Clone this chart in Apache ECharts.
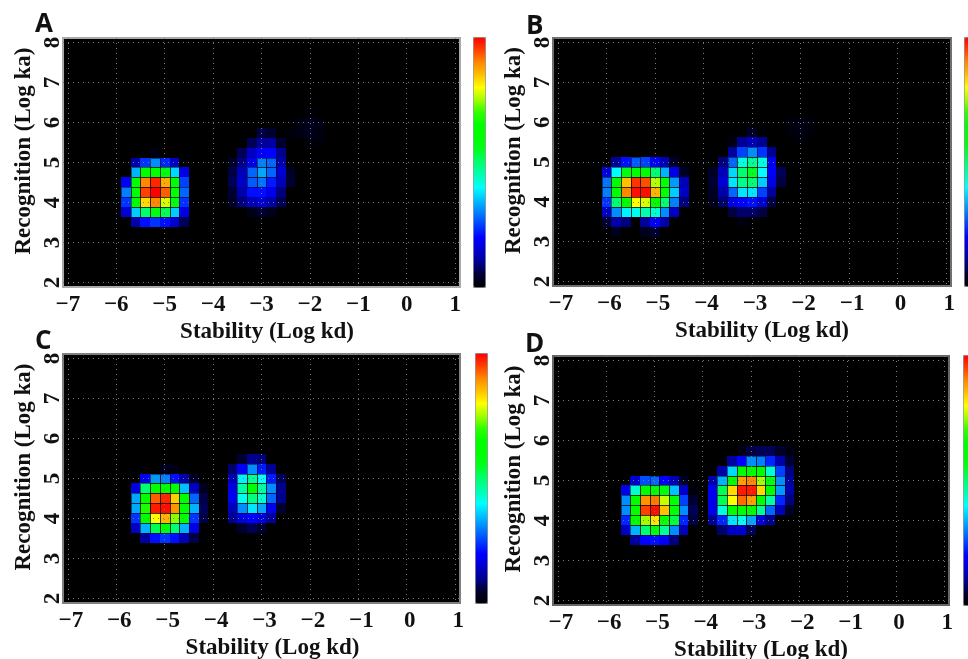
<!DOCTYPE html>
<html>
<head>
<meta charset="utf-8">
<style>html,body{margin:0;padding:0;background:#fff}#c{width:968px;height:659px}</style>
<script src="https://cdn.jsdelivr.net/npm/echarts@6/dist/echarts.min.js"></script>
</head>
<body>
<div id="c"></div>
<script>
// Tick labels
const xTicks = [-7, -6, -5, -4, -3, -2, -1, 0, 1];
const yTicks = [2, 3, 4, 5, 6, 7, 8];
const xTitle = 'Stability (Log kd)';
const yTitle = 'Recognition (Log ka)';

// Heat cells: each row is [y, x of first cell, values of consecutive cells (x step 0.2)]
const panelA = [
  [6.25, -2.0, 1],
  [6.0, -2.2, 2, 3, 2],
  [5.75, -3.0, 6, 5], [5.75, -2.4, 1, 2, 3, 2],
  [5.5, -3.2, 7, 11, 11, 5], [5.5, -2.0, 1, 1],
  [5.25, -5.2, 2], [5.25, -3.4, 7, 14, 19, 20, 10],
  [5.0, -5.6, 12, 24, 31, 23, 14], [5.0, -3.6, 4, 9, 18, 30, 28, 12],
  [4.75, -5.6, 34, 60, 60, 58, 37, 17], [4.75, -3.6, 6, 13, 28, 33, 28, 15, 4],
  [4.5, -5.8, 19, 60, 90, 97, 87, 60, 25], [4.5, -3.6, 7, 14, 27, 29, 22, 13, 5],
  [4.25, -5.8, 30, 62, 95, 100, 93, 60, 28], [4.25, -3.6, 5, 12, 21, 21, 18, 9],
  [4.0, -5.8, 24, 60, 83, 90, 78, 58, 24], [4.0, -3.6, 4, 9, 13, 15, 12, 7],
  [3.75, -5.8, 15, 36, 50, 57, 52, 36, 17], [3.75, -3.2, 3, 5, 3],
  [3.5, -5.6, 12, 21, 24, 21, 15, 7]
];
const panelB = [
  [6.0, -2.2, 1, 2, 1],
  [5.75, -3.0, 4], [5.75, -2.2, 1, 2, 1],
  [5.5, -3.4, 2, 10, 13, 10], [5.5, -2.0, 1],
  [5.25, -3.4, 11, 25, 31, 24, 10],
  [5.0, -5.8, 11, 21, 27, 25, 19, 13, 4], [5.0, -3.6, 9, 28, 42, 47, 42, 18],
  [4.75, -6.0, 16, 40, 57, 60, 60, 50, 34, 17, 4], [4.75, -3.8, 4, 13, 37, 50, 55, 40, 19, 7],
  [4.5, -6.0, 29, 60, 85, 96, 94, 76, 60, 32, 13], [4.5, -3.8, 5, 15, 38, 48, 50, 36, 17, 6],
  [4.25, -6.0, 30, 60, 90, 99, 99, 86, 60, 36, 14], [4.25, -3.8, 4, 12, 28, 38, 38, 25, 11],
  [4.0, -6.0, 24, 50, 60, 80, 78, 60, 50, 30, 9], [4.0, -3.8, 3, 8, 17, 20, 21, 15, 6],
  [3.75, -6.0, 14, 31, 39, 41, 45, 43, 31, 14], [3.75, -3.4, 6, 8, 8, 6],
  [3.5, -6.0, 5, 12, 9, 0, 11, 19, 12], [3.5, -3.2, 2],
  [3.25, -5.8, 3], [3.25, -5.2, 3, 5]
];
const panelC = [
  [5.5, -3.4, 5, 10, 9],
  [5.25, -5.0, 3, 2], [5.25, -3.6, 8, 19, 31, 22, 10],
  [5.0, -5.4, 18, 32, 30, 21, 12, 4], [5.0, -3.6, 13, 39, 47, 40, 22, 7],
  [4.75, -5.6, 17, 50, 60, 60, 60, 35, 14, 3], [4.75, -3.6, 17, 46, 60, 46, 31, 10],
  [4.5, -5.6, 33, 60, 93, 97, 84, 60, 28, 6], [4.5, -3.6, 18, 41, 49, 43, 28, 10],
  [4.25, -5.6, 33, 68, 98, 99, 89, 60, 34, 7], [4.25, -3.6, 13, 31, 38, 33, 18, 5],
  [4.0, -5.6, 24, 60, 80, 86, 74, 60, 24, 6], [4.0, -3.6, 10, 16, 20, 17, 11],
  [3.75, -5.6, 14, 34, 52, 58, 50, 34, 17], [3.75, -3.4, 5, 7, 5],
  [3.5, -5.4, 11, 21, 24, 21, 13, 6]
];
const panelD = [
  [5.75, -3.2, 2, 6, 7, 7, 4, 2],
  [5.5, -3.4, 11, 20, 31, 30, 23, 12, 5],
  [5.25, -3.6, 12, 37, 60, 60, 60, 43, 25, 9],
  [5.0, -5.4, 15, 26, 28, 20, 13, 4], [5.0, -3.8, 12, 34, 60, 88, 90, 75, 58, 31, 11],
  [4.75, -5.6, 18, 43, 60, 60, 58, 35, 14, 1], [4.75, -3.8, 18, 52, 83, 98, 98, 83, 60, 32, 12],
  [4.5, -5.6, 31, 60, 89, 91, 77, 60, 25, 5], [4.5, -3.8, 18, 52, 80, 92, 88, 60, 46, 23, 9],
  [4.25, -5.6, 31, 60, 95, 99, 85, 60, 31, 7], [4.25, -3.8, 17, 42, 60, 60, 60, 47, 28, 13, 4],
  [4.0, -5.6, 23, 60, 75, 82, 66, 53, 23, 6], [4.0, -3.8, 10, 23, 38, 41, 33, 17, 10],
  [3.75, -5.6, 14, 34, 50, 58, 47, 31, 13], [3.75, -3.6, 8, 14, 15, 7],
  [3.5, -5.4, 11, 20, 21, 19, 9]
];
const panelData = [panelA, panelB, panelC, panelD];
const panelLetters = ['A', 'B', 'C', 'D'];

// Layout
const layouts = [
  {l: 63,  t: 38,  w: 397, h: 249, bar: 473, barTop: 37,  barH: 250, border: '#aaaaaa', lx: 35,  ly: 12,  sx: 0, xn: 11},
  {l: 553, t: 38,  w: 398, h: 248, bar: 964, barTop: 37,  barH: 249, border: '#707070', lx: 526, ly: 14,  sx: 6, xn: 20},
  {l: 63,  t: 354, w: 397, h: 249, bar: 475, barTop: 353, barH: 250, border: '#808080', lx: 35,  ly: 329, sx: 6, xn: 22},
  {l: 553, t: 356, w: 396, h: 249, bar: 963, barTop: 355, barH: 250, border: '#666666', lx: 525, ly: 332, sx: 6, xn: 20}
];
const rampColors = ['#000000','#000030','#000090','#0000d0','#0000ff','#0040ff','#0080ff','#00c0ff','#00ffff','#00ffb0','#00ff70','#00ff20','#00ff00','#00ff00','#30ff00','#a0ff00','#ffff00','#ffc000','#ff8800','#ff4000','#ff0000'];
const serif = '"Liberation Serif","Times New Roman",serif';
const minus = v => String(v).replace('-', '\u2212');

function cells(rows) {
  const out = [];
  rows.forEach(r => {
    for (let i = 2; i < r.length; i++) {
      out.push([+(r[1] + (i - 2) * 0.2).toFixed(1), r[0], r[i]]);
    }
  });
  return out;
}
const dots = {show: true, lineStyle: {color: '#7a7a7a', width: 1, type: [1, 4]}};

const option = {
  animation: false,
  backgroundColor: '#ffffff',
  title: layouts.map((p, i) => ({
    text: panelLetters[i], left: p.lx, top: p.ly, padding: 0,
    textStyle: {fontFamily: '"Open Sans","Noto Sans",sans-serif', fontWeight: 'bold', fontSize: 26, color: '#111'}
  })),
  grid: layouts.map(p => ({
    show: true, left: p.l, top: p.t, width: p.w, height: p.h, outerBoundsMode: 'none', containLabel: false,
    backgroundColor: '#000', borderColor: p.border, borderWidth: 2
  })),
  xAxis: layouts.map((p, i) => ({
    type: 'value', gridIndex: i, min: -7.1, max: 1.1, z: 5,
    name: xTitle, nameLocation: 'middle', nameGap: 34, nameMoveOverlap: false,
    nameTextStyle: {fontFamily: serif, fontWeight: 'bold', fontSize: 23, color: '#111', padding: [0, 0, 0, p.xn]},
    axisLine: {show: false},
    axisTick: {show: false, customValues: xTicks},
    axisLabel: {customValues: xTicks, formatter: minus, margin: 7, fontFamily: serif, fontWeight: 'bold', fontSize: 23, color: '#111', padding: [0, 0, 0, p.sx]},
    splitLine: dots
  })),
  yAxis: layouts.map((p, i) => ({
    type: 'value', gridIndex: i, min: 1.885, max: 8.115, z: 5,
    name: yTitle, nameLocation: 'middle', nameGap: 27, nameRotate: 90, nameMoveOverlap: false,
    nameTextStyle: {fontFamily: serif, fontWeight: 'bold', fontSize: 23, color: '#111', padding: [0, 0, 0, 23]},
    axisLine: {show: false},
    axisTick: {show: false, customValues: yTicks},
    axisLabel: {customValues: yTicks, rotate: 90, margin: -2, fontFamily: serif, fontWeight: 'bold', fontSize: 23, color: '#111'},
    splitLine: dots
  })),
  visualMap: layouts.map((p, i) => ({
    type: 'continuous', seriesIndex: i, dimension: 2, min: 0, max: 100, calculable: false, hoverLink: false,
    left: p.bar, top: p.barTop, itemWidth: 12, itemHeight: p.barH, padding: 0, text: null,
    inRange: {color: rampColors}, borderColor: '#888', borderWidth: 1
  })),
  series: panelData.map((rows, i) => ({
    type: 'custom', coordinateSystem: 'cartesian2d', xAxisIndex: i, yAxisIndex: i,
    encode: {x: 0, y: 1},
    data: cells(rows),
    renderItem(params, api) {
      const c = api.coord([api.value(0), api.value(1)]);
      const s = api.size([0.2, 0.25]);
      const x0 = Math.round(c[0] - s[0] / 2), x1 = Math.round(c[0] + s[0] / 2);
      const y0 = Math.round(c[1] - s[1] / 2), y1 = Math.round(c[1] + s[1] / 2);
      const kids = [{
        type: 'rect', z2: 0,
        shape: {x: x0, y: y0, width: x1 - x0, height: y1 - y0},
        style: {fill: api.visual('color')}
      }];
      if (api.value(2) >= 27) {
        kids.push({
          type: 'rect', z2: 1,
          shape: {x: x0 + 0.5, y: y0 + 0.5, width: x1 - x0, height: y1 - y0},
          style: {fill: null, stroke: 'rgba(0,0,0,0.5)', lineWidth: 1}
        });
      }
      return {type: 'group', children: kids};
    }
  }))
};
echarts.init(document.getElementById('c')).setOption(option);
</script>
</body>
</html>
